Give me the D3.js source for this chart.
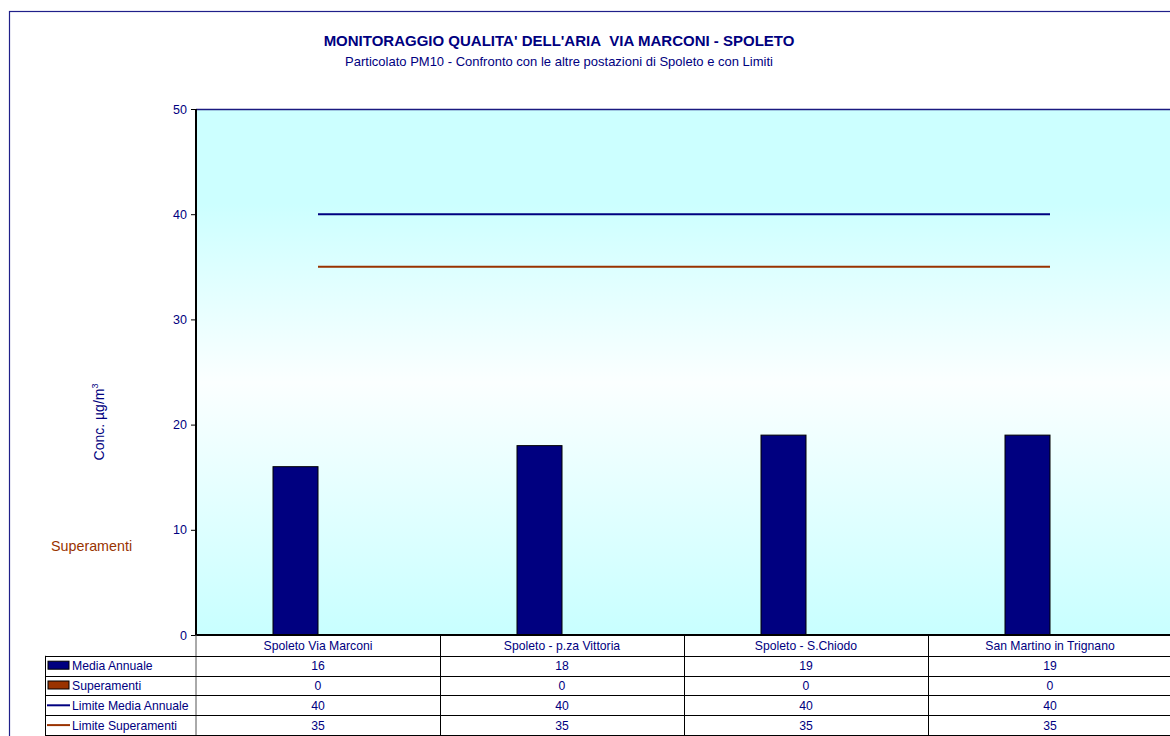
<!DOCTYPE html>
<html><head><meta charset="utf-8">
<script src="https://cdn.jsdelivr.net/npm/d3@7"></script>
<style>
html,body{margin:0;padding:0;background:#fff;overflow:hidden}
svg{display:block;font-family:"Liberation Sans",Arial,sans-serif}
</style></head>
<body>
<svg id="c" width="1170" height="736"></svg>
<script>
const categories = ["Spoleto Via Marconi","Spoleto - p.za Vittoria","Spoleto - S.Chiodo","San Martino in Trignano"];
const mediaAnnuale = [16,18,19,19];
const superamenti = [0,0,0,0];
const limiteMedia = [40,40,40,40];
const limiteSuperamenti = [35,35,35,35];
const yTicks = [0,10,20,30,40,50];
const seriesNames = ["Media Annuale","Superamenti","Limite Media Annuale","Limite Superamenti"];
const seriesColors = ["#000080","#993300","#000080","#993300"];

const navy = "#000080";
const svg = d3.select("#c");
const L = 196, R = 1172, T = 109, B = 635;

// outer frame
svg.append("rect").attr("x",9.5).attr("y",11.5).attr("width",1200).attr("height",800)
  .attr("fill","#fff").attr("stroke","#20208a").attr("stroke-width",1.2);

// titles
svg.append("text").attr("x",559).attr("y",46).attr("text-anchor","middle")
  .attr("font-size",15).attr("font-weight","bold").attr("fill",navy)
  .text("MONITORAGGIO QUALITA' DELL'ARIA\u00a0\u00a0VIA MARCONI - SPOLETO");
svg.append("text").attr("x",559).attr("y",66).attr("text-anchor","middle")
  .attr("font-size",13).attr("fill",navy)
  .text("Particolato PM10 - Confronto con le altre postazioni di Spoleto e con Limiti");

const x0 = d3.scaleBand().domain(categories).range([L,R]).padding(0);
const groupW = 90;
const x1 = d3.scaleBand().domain(["Media Annuale","Superamenti"]).range([0,groupW]);
const y = d3.scaleLinear().domain([0,50]).range([B,T]);

// gradient background
const defs = svg.append("defs");
const g = defs.append("linearGradient").attr("id","bg").attr("x1",0).attr("y1",0).attr("x2",0).attr("y2",1);
g.append("stop").attr("offset","0%").attr("stop-color","#CCFFFF");
g.append("stop").attr("offset","18%").attr("stop-color","#CCFFFF");
g.append("stop").attr("offset","52%").attr("stop-color","#FBFFFF");
g.append("stop").attr("offset","100%").attr("stop-color","#C8FFFF");
svg.append("rect").attr("x",L).attr("y",T).attr("width",R-L).attr("height",B-T).attr("fill","url(#bg)");

// top border
svg.append("line").attr("x1",L).attr("x2",R).attr("y1",T+0.5).attr("y2",T+0.5).attr("stroke","#1a1a80").attr("stroke-width",1.5);

// bars
const barData = [];
categories.forEach((c,i)=>{
  barData.push({c, s:"Media Annuale", v:mediaAnnuale[i], col:seriesColors[0]});
  barData.push({c, s:"Superamenti", v:superamenti[i], col:seriesColors[1]});
});
svg.append("g").selectAll("rect").data(barData.filter(d=>d.v>0)).join("rect")
  .attr("x",d=>x0(d.c)+(x0.bandwidth()-groupW)/2+x1(d.s))
  .attr("y",d=>y(d.v)).attr("width",x1.bandwidth()).attr("height",d=>y(0)-y(d.v))
  .attr("fill",d=>d.col).attr("stroke","#000").attr("stroke-width",1);

// limit lines
const lineGen = d3.line().x(d=>x0(d.c)+x0.bandwidth()/2).y(d=>y(d.v));
[[limiteMedia,seriesColors[2]],[limiteSuperamenti,seriesColors[3]]].forEach(([arr,col])=>{
  svg.append("path").datum(categories.map((c,i)=>({c,v:arr[i]})))
    .attr("d",lineGen).attr("fill","none").attr("stroke",col).attr("stroke-width",2);
});

// y axis
const yAxis = svg.append("g").attr("transform",`translate(${L},0)`)
  .call(d3.axisLeft(y).tickValues(yTicks).tickSize(5).tickPadding(4));
yAxis.select(".domain").remove();
yAxis.selectAll(".tick line").attr("stroke","#000");
yAxis.selectAll(".tick text").attr("fill",navy).attr("font-size",12.5)
  .attr("font-family","Liberation Sans, Arial, sans-serif");
svg.append("line").attr("x1",L).attr("x2",L).attr("y1",T).attr("y2",B+1).attr("stroke","#000").attr("stroke-width",2);
svg.append("line").attr("x1",L).attr("x2",R).attr("y1",B).attr("y2",B).attr("stroke","#000").attr("stroke-width",2);

// y label
svg.append("text").attr("transform","translate(104,422) rotate(-90)").attr("text-anchor","middle")
  .attr("font-size",14).attr("fill",navy)
  .html('Conc. µg/m<tspan dy="-6" font-size="9">3</tspan>');
svg.append("text").attr("x",51).attr("y",551).attr("font-size",14.3).attr("fill","#993300").text("Superamenti");

// data table
const rowH = 19.8;
const tTop = B, legL = 45;
const fs = 12.2;
const tbl = svg.append("g");
categories.forEach(c=>{
  tbl.append("text").attr("x",x0(c)+x0.bandwidth()/2).attr("y",tTop+15).attr("text-anchor","middle")
    .attr("font-size",fs).attr("fill",navy).text(c);
});
categories.forEach((c,i)=>{
  const xx = Math.round(x0(c))+0.5;
  if(i>0) tbl.append("line").attr("x1",xx).attr("x2",xx).attr("y1",tTop).attr("y2",736).attr("stroke","#000").attr("stroke-width",1);
});
tbl.append("line").attr("x1",L).attr("x2",L).attr("y1",tTop).attr("y2",736).attr("stroke","#555").attr("stroke-width",1);
tbl.append("line").attr("x1",legL+0.5).attr("x2",legL+0.5).attr("y1",tTop+rowH+1).attr("y2",736).attr("stroke","#000").attr("stroke-width",1);
const allVals = [mediaAnnuale, superamenti, limiteMedia, limiteSuperamenti];
seriesNames.forEach((s,r)=>{
  const top = tTop + rowH*(r+1) + 1;
  tbl.append("line").attr("x1",legL).attr("x2",R).attr("y1",Math.round(top)+0.5).attr("y2",Math.round(top)+0.5).attr("stroke","#000").attr("stroke-width",1);
  const cy = top + rowH/2;
  if(r<2){
    tbl.append("rect").attr("x",48).attr("y",cy-4.5).attr("width",21).attr("height",8)
      .attr("fill",seriesColors[r]).attr("stroke","#000").attr("stroke-width",1);
  } else {
    tbl.append("line").attr("x1",47).attr("x2",70).attr("y1",cy).attr("y2",cy)
      .attr("stroke",seriesColors[r]).attr("stroke-width",2);
  }
  tbl.append("text").attr("x",72).attr("y",cy+4.5).attr("font-size",fs).attr("fill",navy).text(s);
  categories.forEach((c,i)=>{
    tbl.append("text").attr("x",x0(c)+x0.bandwidth()/2).attr("y",cy+4.5).attr("text-anchor","middle")
      .attr("font-size",fs).attr("fill",navy).text(allVals[r][i]);
  });
});
tbl.append("line").attr("x1",legL).attr("x2",R).attr("y1",735.5).attr("y2",735.5).attr("stroke","#000").attr("stroke-width",1);
</script>
</body></html>
